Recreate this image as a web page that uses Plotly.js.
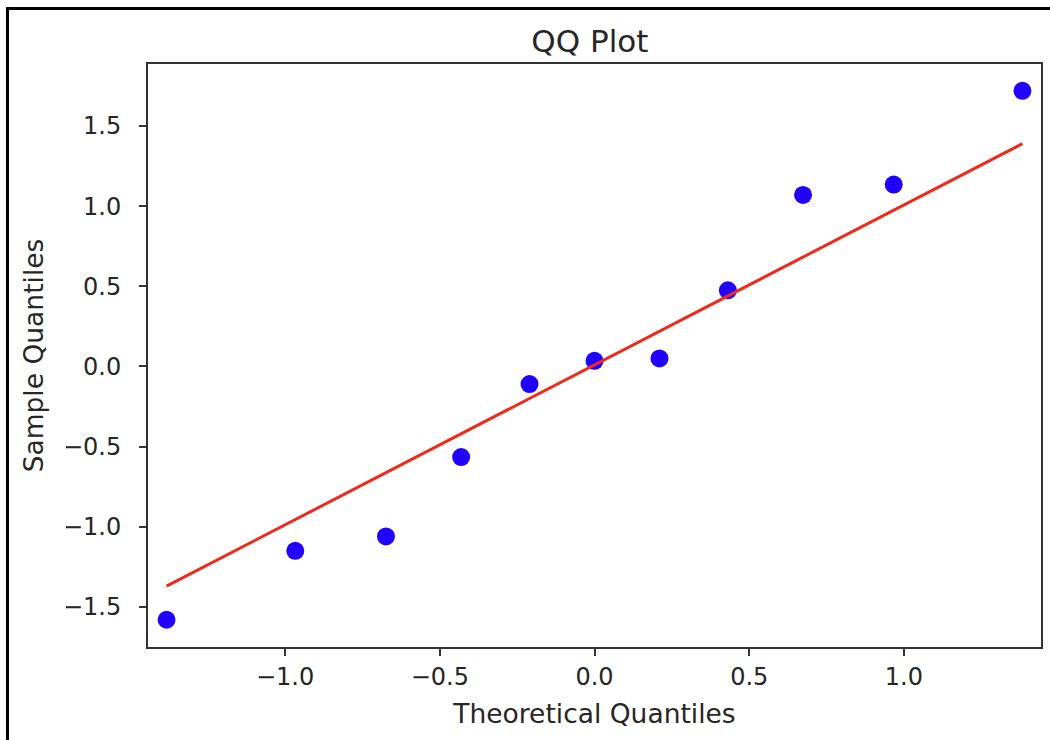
<!DOCTYPE html>
<html>
<head>
<meta charset="utf-8">
<script src="https://cdn.plot.ly/plotly-3.0.1.min.js"></script>
<style>
  html, body { margin: 0; padding: 0; background: #ffffff; }
  #wrap { position: relative; width: 1050px; height: 740px; overflow: hidden; }
  #chart { position: absolute; left: 0; top: 0; width: 1050px; height: 740px; }
  #frame { position: absolute; left: 6px; top: 7px; width: 1100px; height: 800px;
           border-left: 3px solid #000; border-top: 3px solid #000; pointer-events: none; }
</style>
</head>
<body>
<div id="wrap">
  <div id="chart"></div>
  <div id="frame"></div>
</div>
<script>
// Theoretical quantiles (x) and sample quantiles (y)
const theoreticalQuantiles = [-1.383, -0.967, -0.674, -0.431, -0.210, 0.0, 0.210, 0.431, 0.674, 0.967, 1.383];
const sampleQuantiles = [-1.58, -1.15, -1.06, -0.565, -0.11, 0.035, 0.05, 0.475, 1.07, 1.135, 1.72];

// Reference line end points
const lineX = [-1.383, 1.383];
const lineY = [-1.37, 1.39];

const xTickVals = [-1.0, -0.5, 0.0, 0.5, 1.0];
const yTickVals = [-1.5, -1.0, -0.5, 0.0, 0.5, 1.0, 1.5];

const fontFamily = "DejaVu Sans, Liberation Sans, sans-serif";
const textColor = "#262626";
const axisColor = "#333333";

const traces = [
  {
    x: theoreticalQuantiles,
    y: sampleQuantiles,
    type: "scatter",
    mode: "markers",
    marker: { color: "#2200ff", size: 18, line: { width: 0 } },
    hoverinfo: "x+y",
    showlegend: false
  },
  {
    x: lineX,
    y: lineY,
    type: "scatter",
    mode: "lines",
    line: { color: "#f02a1a", width: 3 },
    hoverinfo: "skip",
    showlegend: false
  }
];

const axisCommon = {
  showgrid: false,
  zeroline: false,
  showline: true,
  mirror: true,
  linecolor: axisColor,
  linewidth: 2,
  ticks: "outside",
  ticklen: 7,
  tickwidth: 2,
  tickcolor: axisColor,
  tickformat: ".1f",
  tickfont: { family: fontFamily, size: 24, color: textColor },
  automargin: false
};

const layout = {
  width: 1050,
  height: 740,
  paper_bgcolor: "#ffffff",
  plot_bgcolor: "#ffffff",
  margin: { l: 148, r: 9, t: 64, b: 93, pad: 0 },
  title: {
    text: "QQ Plot",
    font: { family: fontFamily, size: 31, color: textColor },
    x: 0.5618, xref: "container", xanchor: "center",
    y: 1 - 41 / 740, yref: "container", yanchor: "middle"
  },
  xaxis: Object.assign({}, axisCommon, {
    range: [-1.443, 1.443],
    tickmode: "array",
    tickvals: xTickVals,
    ticklabelstandoff: 0,
    title: { text: "Theoretical Quantiles", font: { family: fontFamily, size: 26.5, color: textColor }, standoff: 15 }
  }),
  yaxis: Object.assign({}, axisCommon, {
    range: [-1.75, 1.887],
    tickmode: "array",
    tickvals: yTickVals,
    ticklabelstandoff: 13,
    title: { text: "Sample Quantiles", font: { family: fontFamily, size: 26.5, color: textColor }, standoff: 12 }
  }),
  showlegend: false
};

Plotly.newPlot("chart", traces, layout, { displayModeBar: false, staticPlot: true });
</script>
</body>
</html>
